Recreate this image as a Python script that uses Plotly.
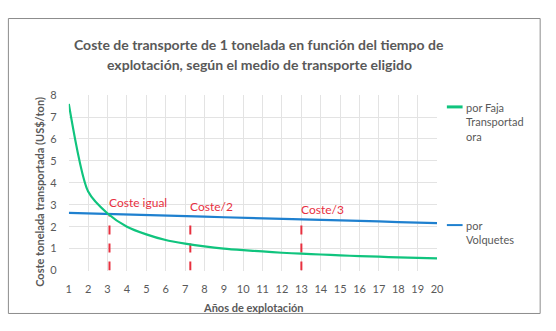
import plotly.graph_objects as go

years = list(range(1, 21))
faja = [7.6, 3.6, 2.6, 2.0, 1.65, 1.39, 1.23, 1.1, 1.0, 0.93, 0.87, 0.81,
        0.77, 0.73, 0.69, 0.66, 0.63, 0.6, 0.58, 0.55]
volquetes = [2.63, 2.61, 2.58, 2.56, 2.53, 2.51, 2.48, 2.46, 2.43, 2.41,
             2.38, 2.36, 2.34, 2.31, 2.29, 2.26, 2.24, 2.21, 2.19, 2.16]
mark_x = [3.1, 7.27, 13.0]
mark_top = [2.57, 2.47, 2.34]
mark_labels = ["Coste igual", "Coste/2", "Coste/3"]
label_y = [3.08, 2.9, 2.8]
title_lines = ["Coste de transporte de 1 tonelada en función del tiempo de",
               "explotación, según el medio de transporte eligido"]

W, H = 556, 331
def px(x):
    return x / W
def py(y):
    return 1 - y / H

GREEN = "#10C47E"
BLUE = "#1F80CF"
RED = "#E8303F"
GRAY = "#595959"
FONT = "Lato"

fig = go.Figure()
for xm, top in zip(mark_x, mark_top):
    fig.add_trace(go.Scatter(x=[xm, xm], y=[0, top], mode="lines",
                             line=dict(color=RED, width=2, dash="dash"),
                             showlegend=False, hoverinfo="skip"))
fig.add_trace(go.Scatter(x=years, y=volquetes, mode="lines",
                         line=dict(color=BLUE, width=2.2),
                         name="por Volquetes", showlegend=False))
fig.add_trace(go.Scatter(x=years, y=faja, mode="lines",
                         line=dict(color=GREEN, width=2.2, shape="spline", smoothing=0.7),
                         name="por Faja Transportadora", showlegend=False))

annotations = []
for xm, ly, t in zip(mark_x, label_y, mark_labels):
    annotations.append(dict(x=xm, y=ly, xref="x", yref="y", text=t,
                            showarrow=False, xanchor="left", yanchor="middle",
                            xshift=-2, font=dict(family=FONT, size=12, color=RED)))

for i, line in enumerate(title_lines):
    annotations.append(dict(x=px(261), y=py(39 + 20.5 * i), xref="paper", yref="paper",
                            text="<b>" + line + "</b>", showarrow=False,
                            xanchor="center", yanchor="middle",
                            font=dict(family=FONT, size=14, color=GRAY)))

annotations += [
    dict(x=px(255), y=py(313), xref="paper", yref="paper",
         text="<b>Años de explotación</b>", showarrow=False,
         xanchor="center", yanchor="middle",
         font=dict(family=FONT, size=11, color=GRAY)),
    dict(x=px(37), y=py(192), xref="paper", yref="paper",
         text="<b>Coste tonelada transportada (US$/ton)</b>", showarrow=False,
         textangle=-90, xanchor="center", yanchor="middle",
         font=dict(family=FONT, size=11, color=GRAY)),
    dict(x=px(469), y=py(96), xref="paper", yref="paper",
         text="por Faja<br>Transportad<br>ora", showarrow=False, align="left",
         xanchor="left", yanchor="top",
         font=dict(family=FONT, size=11, color=GRAY)),
    dict(x=px(469), y=py(219), xref="paper", yref="paper",
         text="por<br>Volquetes", showarrow=False, align="left",
         xanchor="left", yanchor="top",
         font=dict(family=FONT, size=11, color=GRAY)),
]

shapes = [
    dict(type="rect", xref="paper", yref="paper",
         x0=px(5.5), x1=px(547), y0=py(319), y1=py(12),
         line=dict(color="#8C8C8C", width=1)),
    dict(type="line", xref="paper", yref="paper",
         x0=px(452), x1=px(468), y0=py(104), y1=py(104),
         line=dict(color=GREEN, width=3)),
    dict(type="line", xref="paper", yref="paper",
         x0=px(452), x1=px(468), y0=py(227), y1=py(227),
         line=dict(color=BLUE, width=2)),
]

fig.update_layout(
    width=W, height=H,
    margin=dict(l=0, r=0, t=0, b=0),
    paper_bgcolor="white", plot_bgcolor="white",
    showlegend=False,
    xaxis=dict(domain=[px(67), px(442)], range=[1, 20], tickmode="array",
               tickvals=years, ticktext=[str(v) for v in years],
               showgrid=True, gridcolor="#E3E3E3", gridwidth=1,
               zeroline=False, showline=False, ticks="outside", ticklen=8,
               tickcolor="rgba(0,0,0,0)",
               tickfont=dict(family=FONT, size=11, color=GRAY)),
    yaxis=dict(domain=[py(274.3), py(91.7)], range=[0, 8], dtick=1,
               showgrid=True, gridcolor="#E3E3E3", gridwidth=1,
               zeroline=False, showline=False, ticks="outside", ticklen=9,
               tickcolor="rgba(0,0,0,0)",
               tickfont=dict(family=FONT, size=11, color=GRAY)),
    annotations=annotations,
    shapes=shapes,
)

fig.write_html("out.html")
